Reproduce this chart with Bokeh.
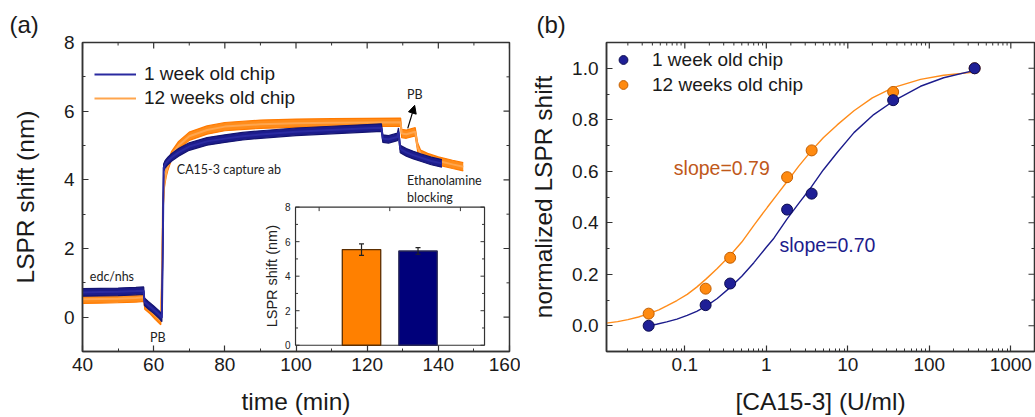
import numpy as np
from bokeh.plotting import figure
from bokeh.models import (Range1d, SingleIntervalTicker, LogTicker,
                          PrintfTickFormatter, CustomJSTickFormatter, Legend, LegendItem,
                          Arrow, NormalHead)
from bokeh.layouts import row
from bokeh.embed import file_html
from bokeh.resources import INLINE
from bokeh.core.properties import value

# ---------------- data: panel (a) time traces ----------------
t_1w = [40, 45, 50, 55, 57.2, 57.4, 58.5, 60, 61.5, 62.3, 62.5, 62.8, 63.2, 64, 65, 67, 70, 75, 80, 85,
        90, 100, 110, 120, 124.0, 124.4, 126, 128.5, 128.8, 129.3, 131, 133, 135, 138, 141]
c_1w = [0.72, 0.73, 0.74, 0.76, 0.77, 0.45, 0.35, 0.22, 0.08, -0.02, 1.5, 4.35, 4.45, 4.55, 4.65, 4.8, 4.97,
        5.12, 5.2, 5.27, 5.32, 5.4, 5.45, 5.5, 5.52, 5.2, 5.18, 5.25, 5.4, 4.9, 4.8, 4.72, 4.65, 4.55, 4.48]
spread_1w = 0.11

t_12w = [40, 45, 50, 55, 57.3, 57.5, 59, 60.5, 61.5, 62.0, 62.3, 62.6, 63.0, 63.5, 64, 65, 67, 70, 75, 80,
         90, 100, 110, 120, 129.4, 129.7, 131, 133.5, 134.2, 135, 137, 140, 144, 147]
c_12w = [0.52, 0.53, 0.54, 0.56, 0.58, 0.35, 0.22, 0.05, -0.05, -0.1, 1.0, 3.2, 3.9, 4.2, 4.4, 4.7, 5.0,
         5.27, 5.45, 5.55, 5.62, 5.65, 5.66, 5.67, 5.68, 5.35, 5.33, 5.4, 4.95, 4.75, 4.65, 4.55, 4.45, 4.38]
spread_12w = 0.12

series_names = ["1 week old chip", "12 weeks old chip"]

# axis ticks panel (a)
a_xmajor = [40, 60, 80, 100, 120, 140, 160]
a_xminor = [50, 70, 90, 110, 130, 150]
a_ymajor = [0, 2, 4, 6, 8]
a_yminor = [-1, 1, 3, 5, 7]

# inset bars
bar_pos = [1, 2]
bar_vals = [5.54, 5.46]
bar_errs = [0.33, 0.19]
inset_yticks = [0, 2, 4, 6, 8]
inset_yminor = [1, 3, 5, 7]
inset_xticks = [0.25, 1.5, 2.75]

# annotations panel (a)
annot_text = ["edc/nhs", "PB", "CA15-3 capture ab", "PB", "Ethanolamine", "blocking"]
annot_x = [42.05, 59.0, 66.5, 131.2, 131.2, 131.2]
annot_y = [1.17, -0.58, 4.29, 6.48, 3.99, 3.50]

# ---------------- data: panel (b) dose response ----------------
conc = [0.036, 0.18, 0.36, 1.8, 3.6, 36, 360]
resp_1w = [0.0, 0.08, 0.164, 0.451, 0.513, 0.876, 1.0]
resp_12w = [0.047, 0.144, 0.264, 0.577, 0.681, 0.908, 1.0]

fit_x_1w = [0.0361, 0.045, 0.06, 0.08, 0.107, 0.14, 0.183, 0.25, 0.364, 0.5, 0.703, 1.0, 1.24, 1.80,
            2.5, 3.59, 5.0, 7.41, 11.9, 20.8, 36.0, 78, 150, 359]
fit_y_1w = [0.0, 0.006, 0.015, 0.026, 0.040, 0.056, 0.076, 0.106, 0.150, 0.192, 0.245, 0.305, 0.34,
            0.415, 0.475, 0.54, 0.605, 0.673, 0.75, 0.82, 0.872, 0.93, 0.963, 0.992]
fit_x_12w = [0.0109, 0.015, 0.02, 0.027, 0.0361, 0.048, 0.06, 0.08, 0.107, 0.14, 0.183, 0.25, 0.364,
             0.5, 0.703, 1.03, 1.4, 1.80, 2.5, 3.59, 5.0, 7.41, 11.9, 20.0, 36.0, 78, 150, 359]
fit_y_12w = [0.010, 0.016, 0.024, 0.034, 0.047, 0.062, 0.077, 0.098, 0.122, 0.150, 0.182, 0.222, 0.275,
             0.325, 0.39, 0.46, 0.515, 0.56, 0.62, 0.68, 0.73, 0.78, 0.835, 0.885, 0.925, 0.957, 0.973,
             0.985]
slope_text = ["slope=0.79", "slope=0.70"]
slope_x = [0.0733, 1.45]
slope_y = [0.614, 0.314]

# axis ticks panel (b)
b_xmajor = [0.1, 1, 10, 100, 1000]
b_xminor = [m * d for d in [0.01, 0.1, 1, 10, 100, 1000] for m in range(2, 10)]
b_ymajor = [0.0, 0.2, 0.4, 0.6, 0.8, 1.0]
b_yminor = [0.1, 0.3, 0.5, 0.7, 0.9]

# ---------------- styling ----------------
FONT = "Liberation Sans"
ANNOT = "Lato"
AXC = "#333333"
BLUE = "#1c1c8c"
ORANGE = "#ff8c1a"


def style_axis(ax, size="19px"):
    ax.major_tick_in = 6
    ax.major_tick_out = 0
    ax.minor_tick_in = 3
    ax.minor_tick_out = 0
    ax.axis_line_width = 1.5
    ax.axis_line_color = AXC
    ax.major_tick_line_color = AXC
    ax.minor_tick_line_color = AXC
    ax.major_tick_line_width = 1.2
    ax.minor_tick_line_width = 1.0
    ax.major_label_text_font = FONT
    ax.major_label_text_color = "#1a1a1a"
    ax.major_label_text_font_size = size
    ax.major_label_standoff = 6
    ax.axis_label_text_font = FONT
    ax.axis_label_text_font_style = "normal"
    ax.axis_label_text_font_size = "24.5px"
    ax.axis_label_text_color = "#1a1a1a"


def mirror_ticks(p, x_top, y_right, xmaj, xmin, ymaj, ymin):
    kw = dict(line_color=AXC, length_units="screen")
    p.ray(x=xmaj, y=[y_right[1]] * len(xmaj), length=6, angle=-np.pi / 2, line_width=1.2, **kw)
    p.ray(x=xmin, y=[y_right[1]] * len(xmin), length=3, angle=-np.pi / 2, line_width=1.0, **kw)
    p.ray(x=[x_top[1]] * len(ymaj), y=ymaj, length=6, angle=np.pi, line_width=1.2, **kw)
    p.ray(x=[x_top[1]] * len(ymin), y=ymin, length=3, angle=np.pi, line_width=1.0, **kw)


def style_title(p, text, offset):
    p.title.text = text
    p.title.align = "left"
    p.title.offset = offset
    p.title.text_font = FONT
    p.title.text_font_size = "24px"
    p.title.text_font_style = "normal"
    p.title.text_color = "#1a1a1a"
    p.title.standoff = 10


# ================= panel (a) =================
pa = figure(width=520, height=417, x_range=Range1d(40, 160), y_range=Range1d(-1, 8),
            output_backend="svg", toolbar_location=None,
            min_border_left=82, min_border_right=11, min_border_top=42, min_border_bottom=64)
pa.xgrid.grid_line_color = None
pa.ygrid.grid_line_color = None
pa.outline_line_color = AXC
pa.outline_line_width = 1.5
pa.background_fill_color = "white"

pa.xaxis.ticker = SingleIntervalTicker(interval=20, num_minor_ticks=2)
pa.yaxis.ticker = SingleIntervalTicker(interval=2, num_minor_ticks=2)
pa.xaxis.axis_label = "time (min)"
pa.yaxis.axis_label = "LSPR shift (nm)"
style_axis(pa.xaxis[0])
style_axis(pa.yaxis[0])
pa.xaxis.axis_label_standoff = 14
pa.yaxis.axis_label_standoff = 22
pa.yaxis[0].major_label_standoff = 8
style_title(pa, "(a)", -73)

renderers_a = []
for t, c, s, col, edge, ctr in [(t_12w, c_12w, spread_12w, ORANGE, "#ff7a00", "#ffa54d"),
                                (t_1w, c_1w, spread_1w, BLUE, "#141470", "#2a2aa0")]:
    c = np.array(c, dtype=float)
    lo = c - s
    hi = c + s
    pa.varea(x=t, y1=lo, y2=hi, fill_color=col)
    pa.line(t, lo, line_color=edge, line_width=1.2)
    pa.line(t, hi, line_color=edge, line_width=1.2)
    r = pa.line(t, c, line_color=ctr, line_width=2)
    renderers_a.append(r)

leg_a = Legend(items=[LegendItem(label=series_names[0], renderers=[renderers_a[1]]),
                      LegendItem(label=series_names[1], renderers=[renderers_a[0]])],
               location=(12, 241), orientation="vertical", glyph_width=42, glyph_height=24,
               label_height=24, label_standoff=8, spacing=0, padding=0, margin=0,
               label_text_font=FONT, label_text_font_size="19px", label_text_color="#1a1a1a",
               background_fill_alpha=0, border_line_alpha=0)
pa.add_layout(leg_a)

pa.text(x=annot_x, y=annot_y, text=annot_text, text_font=value(ANNOT), text_font_size="12.5px",
        text_baseline="middle", text_align="left", text_color="#222222")
pa.add_layout(Arrow(end=NormalHead(size=8, fill_color="black", line_color="black"),
                    x_start=131.4, y_start=5.5, x_end=133.35, y_end=6.17,
                    line_color="black", line_width=1.2))

# ----- inset (drawn through its own ranges) -----
pa.extra_x_ranges = {"inset": Range1d(-3.938, 3.619)}
pa.extra_y_ranges = {"inset": Range1d(-0.363, 17.537)}
ins_l, ins_r = -0.168, 3.177
ins = dict(x_range_name="inset", y_range_name="inset")
pa.quad(left=[ins_l], right=[ins_r], bottom=[inset_yticks[0]], top=[inset_yticks[-1]],
        fill_color="white", line_color=AXC, line_width=1.2, **ins)
pa.vbar(x=bar_pos[:1], top=bar_vals[:1], width=0.68, bottom=0, fill_color="#ff8000",
        line_color="#5c2e00", line_width=1.3, **ins)
pa.vbar(x=bar_pos[1:], top=bar_vals[1:], width=0.68, bottom=0, fill_color="#00007a",
        line_color="#2a2a55", line_width=1.3, **ins)
err_up = [v + e for v, e in zip(bar_vals, bar_errs)]
err_lo = [v - e for v, e in zip(bar_vals, bar_errs)]
pa.segment(x0=bar_pos, y0=err_lo, x1=bar_pos, y1=err_up, line_color="#222222", line_width=1.2, **ins)
pa.scatter(x=bar_pos + bar_pos, y=err_up + err_lo, marker="dash", size=5, line_color="#222222",
           line_width=1.2, **ins)
rk = dict(length_units="screen", line_color=AXC, line_width=1, **ins)
pa.ray(x=[ins_l] * len(inset_yticks), y=inset_yticks, length=4, angle=0, **rk)
pa.ray(x=[ins_l] * len(inset_yminor), y=inset_yminor, length=2.5, angle=0, **rk)
pa.ray(x=[ins_r] * len(inset_yticks), y=inset_yticks, length=4, angle=np.pi, **rk)
pa.ray(x=[ins_r] * len(inset_yminor), y=inset_yminor, length=2.5, angle=np.pi, **rk)
pa.ray(x=inset_xticks, y=[inset_yticks[-1]] * len(inset_xticks), length=4, angle=-np.pi / 2, **rk)
pa.text(x=[ins_l] * len(inset_yticks), y=inset_yticks, text=[str(v) for v in inset_yticks],
        x_offset=-5, text_align="right", text_baseline="middle", text_font=value(FONT),
        text_font_size="10px", text_color="#222222", **ins)
pa.text(x=[ins_l], y=[4], text=["LSPR shift (nm)"], angle=np.pi / 2, x_offset=-24,
        text_align="center", text_baseline="middle", text_font=value(FONT),
        text_font_size="14.5px", text_color="#222222", **ins)

mirror_ticks(pa, (40, 160), (-1, 8), a_xmajor, a_xminor, a_ymajor, a_yminor)

# ================= panel (b) =================
bx = (0.01094, 1953)
by = (-0.1, 1.1)
pb = figure(width=515, height=417, x_axis_type="log", x_range=Range1d(*bx),
            y_range=Range1d(*by), output_backend="svg", toolbar_location=None,
            min_border_left=86, min_border_right=1, min_border_top=42, min_border_bottom=64)
pb.xgrid.grid_line_color = None
pb.ygrid.grid_line_color = None
pb.outline_line_color = AXC
pb.outline_line_width = 1.5
pb.xaxis.ticker = LogTicker(num_minor_ticks=10)
pb.xaxis.formatter = CustomJSTickFormatter(code="return Number(tick.toPrecision(6)).toString();")
pb.yaxis.ticker = SingleIntervalTicker(interval=0.2, num_minor_ticks=2)
pb.yaxis.formatter = PrintfTickFormatter(format="%.1f")
pb.xaxis.axis_label = "[CA15-3] (U/ml)"
pb.yaxis.axis_label = "normalized LSPR shift"
style_axis(pb.xaxis[0])
style_axis(pb.yaxis[0])
pb.xaxis.axis_label_standoff = 14
pb.yaxis.axis_label_standoff = 12
pb.yaxis[0].major_label_standoff = 8
style_title(pb, "(b)", -70)

pb.line(fit_x_12w, fit_y_12w, line_color="#ff8c1a", line_width=1.4)
pb.line(fit_x_1w, fit_y_1w, line_color="#1c1c8c", line_width=1.4)
s12 = pb.scatter(conc, resp_12w, size=11, fill_color="#ff8a10", line_color="#c25e00", line_width=1)
s1 = pb.scatter(conc, resp_1w, size=11, fill_color="#1f1f96", line_color="#0c0c50", line_width=1)
pb.text(x=slope_x[:1], y=slope_y[:1], text=slope_text[:1], text_font=value(FONT), text_font_size="19.5px",
        text_baseline="middle", text_align="left", text_color="#c0581a")
pb.text(x=slope_x[1:], y=slope_y[1:], text=slope_text[1:], text_font=value(FONT), text_font_size="19.5px",
        text_baseline="middle", text_align="left", text_color="#1c1c8c")

leg_b = Legend(items=[LegendItem(label=series_names[0], renderers=[s1]),
                      LegendItem(label=series_names[1], renderers=[s12])],
               location=(6, 254), orientation="vertical", glyph_width=22, glyph_height=25,
               label_height=25, label_standoff=18, spacing=0, padding=0, margin=0,
               label_text_font=FONT, label_text_font_size="19px", label_text_color="#1a1a1a",
               background_fill_alpha=0, border_line_alpha=0)
pb.add_layout(leg_b)

xmin_in = [v for v in b_xminor if bx[0] < v < bx[1]]
mirror_ticks(pb, bx, by, b_xmajor, xmin_in, b_ymajor, b_yminor)

layout = row(pa, pb)
open("out.html", "w").write(file_html(layout, INLINE))
